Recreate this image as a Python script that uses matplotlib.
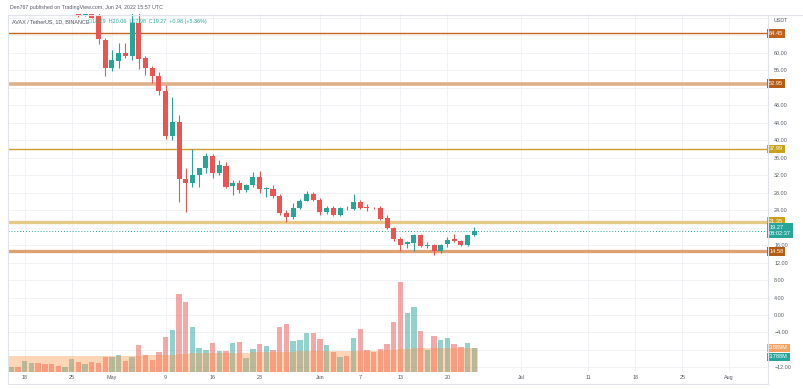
import numpy as np
import pandas as pd
import matplotlib
matplotlib.use("Agg")
import matplotlib.pyplot as plt
import matplotlib.dates as mdates
from matplotlib.lines import Line2D

plt.rcParams['font.family'] = ['Liberation Sans', 'DejaVu Sans']

# daily candles AVAX/USDT, 16 Apr - 24 Jun 2022
dates = pd.date_range("2022-04-16", "2022-06-24", freq="D")

opens = [79.5, 80.5, 76.8, 79.5, 81.5, 79.8, 77.5, 75.5, 74.5, 75.2,
         76.4, 68.5, 70.6, 68.6, 62.9, 56.5, 58.1, 60.0, 59.3, 66.8,
         58.8, 56.5, 54.7, 51.3, 41.0, 44.2, 31.1, 30.2, 32.0, 33.6,
         36.4, 32.5, 34.1, 29.5, 30.2, 28.6, 29.7, 31.6, 28.8, 28.9,
         27.2, 23.4, 22.5, 24.6, 26.2, 27.6, 26.3, 23.6, 24.6, 22.9,
         24.6, 24.2, 25.9, 24.6, 24.5, 24.4, 22.1, 19.8, 17.3, 16.2,
         16.5, 18.3, 15.8, 16.0, 14.7, 16.2, 17.3, 17.0, 16.1, 18.29]
highs = [81.5, 81.0, 80.0, 82.0, 83.5, 84.0, 79.0, 76.5, 76.0, 76.8,
         77.5, 71.5, 72.5, 69.9, 63.5, 60.6, 62.3, 62.2, 70.5, 70.2,
         59.2, 57.0, 55.5, 52.6, 49.9, 45.8, 33.6, 38.0, 33.2, 37.1,
         36.8, 35.5, 35.0, 30.8, 30.8, 29.9, 32.7, 33.0, 29.4, 29.7,
         27.8, 24.0, 25.7, 26.5, 28.4, 28.2, 26.8, 24.9, 24.9, 24.8,
         24.9, 27.8, 26.3, 25.3, 24.7, 25.0, 23.0, 20.2, 17.8, 17.0,
         18.5, 18.6, 16.8, 16.3, 16.3, 17.8, 18.5, 17.2, 18.4, 20.06]
lows = [78.5, 76.0, 73.0, 78.5, 79.0, 76.5, 74.5, 74.0, 73.8, 71.0,
        68.3, 68.4, 67.9, 62.0, 54.7, 55.9, 56.5, 58.8, 58.4, 56.3,
        54.9, 53.1, 50.3, 40.2, 40.0, 25.9, 23.6, 29.4, 29.3, 32.5,
        31.3, 32.0, 29.0, 27.5, 27.9, 28.2, 29.3, 28.0, 27.1, 26.8,
        23.0, 21.2, 22.0, 24.3, 26.0, 26.0, 23.0, 23.2, 22.7, 22.6,
        24.0, 24.0, 24.2, 23.8, 24.2, 21.8, 19.6, 17.0, 14.7, 15.4,
        14.7, 15.6, 15.3, 13.7, 14.3, 15.5, 16.6, 15.9, 15.9, 17.98]
closes = [80.5, 76.8, 79.5, 81.5, 79.8, 77.5, 75.5, 74.5, 75.2, 76.4,
          68.4, 70.6, 68.0, 63.2, 56.5, 58.4, 60.0, 59.3, 66.8, 58.6,
          56.5, 54.7, 51.3, 41.0, 44.2, 31.1, 30.2, 32.0, 33.6, 36.4,
          32.5, 34.3, 29.3, 30.2, 28.6, 29.7, 31.6, 28.8, 29.0, 27.2,
          23.4, 22.5, 24.6, 26.2, 27.6, 26.3, 23.6, 24.6, 22.9, 24.6,
          24.4, 25.9, 24.6, 24.5, 24.4, 22.0, 19.8, 17.3, 16.0, 16.6,
          18.3, 15.8, 16.0, 14.7, 16.1, 17.2, 16.9, 16.1, 18.29, 19.27]
# volume in millions
volume = [0.75, 0.86, 1.83, 1.50, 1.50, 1.34, 1.29, 0.97, 0.75, 2.04,
          1.61, 1.24, 1.67, 1.50, 2.42, 2.42, 2.74, 1.72, 2.42, 4.35,
          2.74, 2.00, 3.17, 5.70, 6.72, 12.6, 11.3, 7.20, 3.90, 3.60,
          4.68, 3.33, 3.44, 4.68, 4.84, 2.20, 3.76, 4.57, 4.20, 3.50,
          7.20, 7.70, 5.00, 5.10, 6.34, 6.24, 5.27, 4.40, 3.17, 2.47,
          2.63, 5.48, 6.94, 3.50, 3.17, 3.76, 4.46, 8.06, 14.46, 9.57,
          10.4, 6.56, 3.60, 5.80, 5.10, 5.48, 4.57, 4.00, 4.68, 3.788]
vol_ma = [2.63, 2.63, 2.62, 2.62, 2.61, 2.61, 2.60, 2.60, 2.59, 2.59,
          2.58, 2.58, 2.58, 2.58, 2.59, 2.60, 2.61, 2.61, 2.62, 2.65,
          2.66, 2.67, 2.69, 2.72, 2.80, 2.92, 2.98, 3.02, 3.04, 3.06,
          3.08, 3.09, 3.10, 3.12, 3.13, 3.14, 3.15, 3.17, 3.19, 3.21,
          3.24, 3.27, 3.29, 3.31, 3.34, 3.36, 3.38, 3.39, 3.38, 3.36,
          3.34, 3.36, 3.39, 3.40, 3.41, 3.44, 3.48, 3.55, 3.70, 3.76,
          3.80, 3.82, 3.82, 3.85, 3.87, 3.90, 3.90, 3.89, 3.89, 3.889]

levels = [64.45, 52.95, 37.99, 21.35, 14.58]
level_line_colors = ['#c4671d', '#deb088', '#cf9b2c', '#e6c987', '#dea272']
level_line_widths = [1.0, 2.6, 1.0, 2.4, 2.4]
level_box_colors = ['#c0601a', '#b65c12', '#c9a01a', '#c9a01a', '#b65c12']
last_price = 19.27
price_ticks = list(range(-12, 69, 4))
hidden_ticks = [68, 64, 52, 20, -8]   # covered by the price / volume tags

date_ticks = ["2022-04-18", "2022-04-25", "2022-05-01", "2022-05-09", "2022-05-16",
              "2022-05-23", "2022-06-01", "2022-06-07", "2022-06-13", "2022-06-20",
              "2022-07-01", "2022-07-11", "2022-07-18", "2022-07-25", "2022-08-01"]
date_labels = ["18", "25", "May", "9", "16", "23", "Jun", "7", "13", "20",
               "Jul", "11", "18", "25", "Aug"]

UP = '#26a69a'
DOWN = '#ef5350'
GRID = '#f0f2f6'
TXT = '#555a66'
FS = 3.9
TAG_FS = 4.1
TAG_PAD = 0.32

fig = plt.figure(figsize=(8.04, 3.89), dpi=100)
fig.patch.set_facecolor('white')
W, H = 804, 389
ax = fig.add_axes([8 / W, 17 / H, 760 / W, 358 / H])
# volume pane on its own scale (twinx resets ax ticks to the left, so make it first)
ax2 = ax.twinx()

x = mdates.date2num(dates)
d0 = x[0]
ax.set_xlim(d0 - 0.49, d0 + 112.77)
ax.set_ylim(-13.04, 68.88)

o = np.array(opens)
h = np.array(highs)
l = np.array(lows)
c = np.array(closes)
up = c >= o
cols = np.where(up, UP, DOWN)

# grid
for t in price_ticks:
    ax.axhline(t, color=GRID, lw=0.7, zorder=0)
tick_x = mdates.date2num(pd.to_datetime(date_ticks))
for t in tick_x:
    ax.axvline(t, color=GRID, lw=0.7, zorder=0)

# candles
ax.vlines(x, l, h, colors=cols, lw=0.8, zorder=3)
body_lo = np.minimum(o, c)
body_h = np.maximum(np.abs(c - o), 0.2)
ax.bar(x, body_h, bottom=body_lo, width=0.75, color=cols, linewidth=0, zorder=4)

# horizontal levels
for lv, lc, lw in zip(levels, level_line_colors, level_line_widths):
    ax.axhline(lv, color=lc, lw=lw, zorder=2)
ax.axhline(last_price, color=UP, lw=0.7, ls=(0, (1, 2)), zorder=2)

# price axis
ax.yaxis.tick_right()
ax.set_yticks(price_ticks)
ax.set_yticklabels(["" if t in hidden_ticks else ("%.2f" % t).replace('-', '\u2212')
                    for t in price_ticks])
ax.tick_params(axis='y', which='both', left=False, labelleft=False, right=False,
               labelright=True, length=0, pad=4.5, labelsize=FS, labelcolor=TXT)
ax.set_xticks(tick_x)
ax.set_xticklabels(date_labels)
ax.tick_params(axis='x', length=0, pad=2.5, labelsize=FS, labelcolor=TXT)
for s in ax.spines.values():
    s.set_visible(False)

ytr = ax.get_yaxis_transform()
for lv, bc in zip(levels, level_box_colors):
    ax.text(1.0015, lv, "%.2f" % lv, transform=ytr, ha='left', va='center',
            fontsize=TAG_FS, color='white', clip_on=False, zorder=6,
            bbox=dict(boxstyle='square,pad=%.2f' % TAG_PAD, fc=bc, ec='none'))
ax.text(1.0015, last_price, "%.2f\n08:02:37" % last_price, transform=ytr,
        ha='left', va='center', fontsize=TAG_FS, color='white', clip_on=False,
        zorder=6, linespacing=1.25,
        bbox=dict(boxstyle='square,pad=%.2f' % TAG_PAD, fc=UP, ec='none'))

ax2.set_ylim(0, 57.7)
ax2.set_yticks([])
ax2.tick_params(axis='both', length=0)
for s in ax2.spines.values():
    s.set_visible(False)
vcols = np.where(up, UP, DOWN)
ax2.bar(x, volume, width=0.8, color=vcols, alpha=0.5, linewidth=0, zorder=1)
edges = np.append(x - 0.5, x[-1] + 0.5)
ma_steps = np.append(vol_ma, vol_ma[-1])
ax2.fill_between(edges, 0, ma_steps, step='post', color='#ff8c3c',
                 alpha=0.36, linewidth=0, zorder=2)
y2tr = ax2.get_yaxis_transform()
ax2.text(1.0015, vol_ma[-1], "3.889M", transform=y2tr, ha='left', va='center',
         fontsize=TAG_FS, color='white', clip_on=False, zorder=6,
         bbox=dict(boxstyle='square,pad=%.2f' % TAG_PAD, fc='#f7a260', ec='none'))
ax2.annotate("3.788M", xy=(1.0015, volume[-1]), xycoords=y2tr,
             xytext=(0, -6.0), textcoords='offset points', ha='left',
             va='center', fontsize=TAG_FS, color='white', annotation_clip=False,
             zorder=6, bbox=dict(boxstyle='square,pad=%.2f' % TAG_PAD, fc=UP, ec='none'))

# frame lines of the chart window
border = '#e0e3eb'
fig.add_artist(Line2D([8 / W, 1], [1 - 14.5 / H, 1 - 14.5 / H], color=border, lw=0.8))
fig.add_artist(Line2D([768 / W, 768 / W], [1 - 384 / H, 1 - 14.5 / H], color=border, lw=0.8))
fig.add_artist(Line2D([8 / W, 768 / W], [1 - 384 / H, 1 - 384 / H], color=border, lw=0.8))
fig.add_artist(Line2D([8 / W, 8 / W], [1 - 384 / H, 1 - 14.5 / H], color=border, lw=0.8))

# header texts
fig.text(10 / W, 1 - 8 / H, "Den767 published on TradingView.com, Jun 24, 2022 15:57 UTC",
         fontsize=3.8, color=TXT, va='center', ha='left')
fig.text(12 / W, 1 - 22 / H, "AVAX / TetherUS, 1D, BINANCE", fontsize=FS,
         color='#4a4f5c', va='center', ha='left')
fig.text(88 / W, 1 - 22 / H, "O18.29  H20.06  L17.98  C19.27  +0.98 (+5.36%)",
         fontsize=FS, color=UP, va='center', ha='left')
fig.text(774 / W, 1 - 21 / H, "USDT", fontsize=FS, color=TXT, va='center', ha='left')

fig.savefig("out.png", dpi=100)
